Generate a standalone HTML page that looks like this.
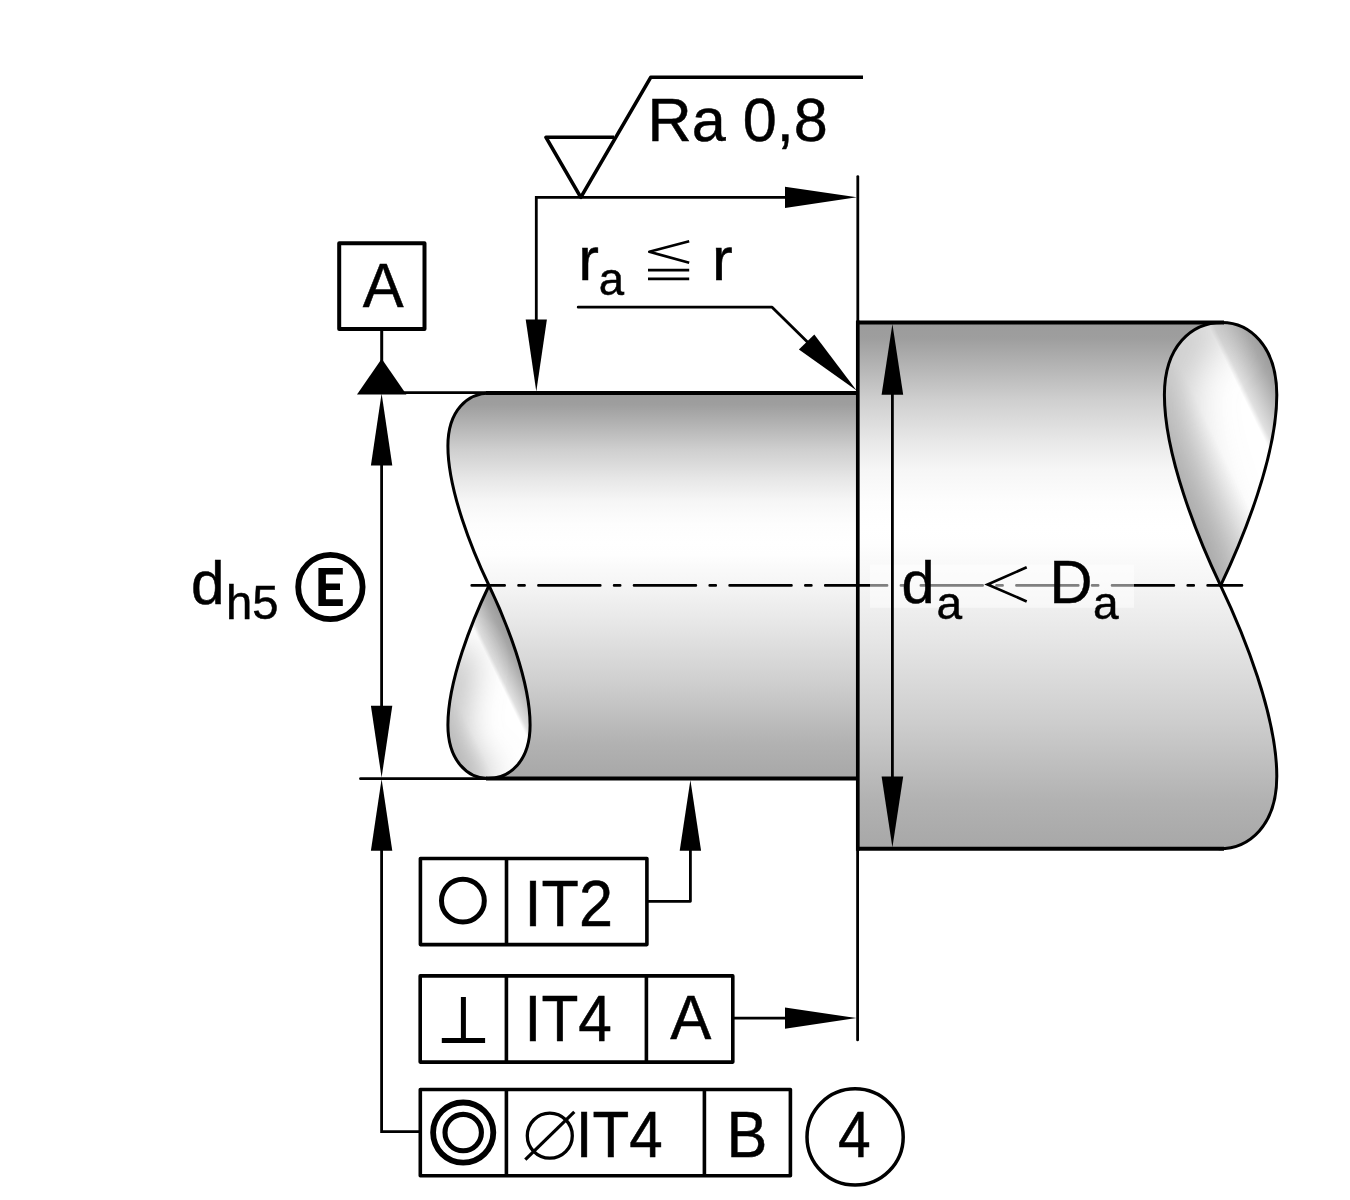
<!DOCTYPE html>
<html>
<head>
<meta charset="utf-8">
<title>Shaft tolerances</title>
<style>
html,body{margin:0;padding:0;background:#fff;}
body{width:1350px;height:1200px;overflow:hidden;font-family:"Liberation Sans",sans-serif;}
svg{display:block;mix-blend-mode:multiply;}
text{font-family:"Liberation Sans",sans-serif;fill:#000;stroke:#000;stroke-width:0.5px;}
</style>
</head>
<body>
<svg width="1350" height="1200" viewBox="0 0 1350 1200">
<defs>
  <linearGradient id="gSmall" gradientUnits="userSpaceOnUse" x1="0" y1="393" x2="0" y2="778.5">
    <stop offset="0" stop-color="#9b9b9b"/>
    <stop offset="0.03" stop-color="#9e9e9e"/>
    <stop offset="0.0714" stop-color="#afafaf"/>
    <stop offset="0.1474" stop-color="#cfcfcf"/>
    <stop offset="0.2234" stop-color="#e7e7e7"/>
    <stop offset="0.2804" stop-color="#f6f6f6"/>
    <stop offset="0.34" stop-color="#fdfdfd"/>
    <stop offset="0.39" stop-color="#ffffff"/>
    <stop offset="0.42" stop-color="#fefefe"/>
    <stop offset="0.45" stop-color="#fafafa"/>
    <stop offset="0.49" stop-color="#f6f6f6"/>
    <stop offset="0.603" stop-color="#e6e6e6"/>
    <stop offset="0.755" stop-color="#cecece"/>
    <stop offset="0.907" stop-color="#b2b2b2"/>
    <stop offset="0.985" stop-color="#a9a9a9"/>
    <stop offset="1" stop-color="#a8a8a8"/>
  </linearGradient>
  <linearGradient id="gBig" gradientUnits="userSpaceOnUse" x1="0" y1="322.4" x2="0" y2="848.8">
    <stop offset="0" stop-color="#9b9b9b"/>
    <stop offset="0.03" stop-color="#9e9e9e"/>
    <stop offset="0.0714" stop-color="#afafaf"/>
    <stop offset="0.1474" stop-color="#cfcfcf"/>
    <stop offset="0.2234" stop-color="#e7e7e7"/>
    <stop offset="0.2804" stop-color="#f6f6f6"/>
    <stop offset="0.34" stop-color="#fdfdfd"/>
    <stop offset="0.39" stop-color="#ffffff"/>
    <stop offset="0.42" stop-color="#fefefe"/>
    <stop offset="0.45" stop-color="#fafafa"/>
    <stop offset="0.49" stop-color="#f6f6f6"/>
    <stop offset="0.603" stop-color="#e6e6e6"/>
    <stop offset="0.755" stop-color="#cecece"/>
    <stop offset="0.907" stop-color="#b2b2b2"/>
    <stop offset="0.985" stop-color="#a9a9a9"/>
    <stop offset="1" stop-color="#a8a8a8"/>
  </linearGradient>
  <linearGradient id="gTearBig" gradientUnits="userSpaceOnUse" x1="1218.8" y1="585.6" x2="1350.7" y2="520.8">
    <stop offset="0" stop-color="#b0b0b0"/>
    <stop offset="0.2" stop-color="#d8d8d8"/>
    <stop offset="0.42" stop-color="#ffffff"/>
    <stop offset="0.716" stop-color="#ffffff"/>
    <stop offset="0.752" stop-color="#e0e0e0"/>
    <stop offset="0.83" stop-color="#c8c8c8"/>
    <stop offset="0.932" stop-color="#a8a8a8"/>
    <stop offset="1" stop-color="#9c9c9c"/>
  </linearGradient>
  <linearGradient id="gTearSmall" gradientUnits="userSpaceOnUse" x1="452.8" y1="761.1" x2="549.3" y2="713.6">
    <stop offset="0" stop-color="#d0d0d0"/>
    <stop offset="0.28" stop-color="#ffffff"/>
    <stop offset="0.716" stop-color="#ffffff"/>
    <stop offset="0.752" stop-color="#e0e0e0"/>
    <stop offset="0.83" stop-color="#c8c8c8"/>
    <stop offset="0.932" stop-color="#a8a8a8"/>
    <stop offset="1" stop-color="#9c9c9c"/>
  </linearGradient>
  <filter id="blurBig" filterUnits="userSpaceOnUse" x="1060" y="220" width="330" height="470"><feGaussianBlur stdDeviation="25"/></filter>
  <filter id="blurSmall" filterUnits="userSpaceOnUse" x="370" y="500" width="250" height="360"><feGaussianBlur stdDeviation="18"/></filter>
  <clipPath id="clipBigTear"><path d="M 1220.6,585.6 C 1197.4,537.1 1164.4,455.1 1164.4,395 C 1164.4,345.8 1191.9,322.5 1222,322.5 C 1249.3,322.5 1276.8,345.8 1276.8,395 C 1276.8,455.1 1243.8,537.1 1220.6,585.6 Z"/></clipPath>
  <clipPath id="clipSmallTear"><path d="M 489,585.5 C 506,621 530.1,681 530.1,725 C 530.1,761 510,778.5 488,778.5 C 468,778.5 447.9,761 447.9,725 C 447.9,681 472,621 489,585.5 Z"/></clipPath>
</defs>

<!-- ============ SHAFT BODIES ============ -->
<!-- small shaft body -->
<path id="smallBody" fill="url(#gSmall)" stroke="none"
  d="M 490,393 L 857,393 L 857,778.5 L 488,778.5
     C 510,778.5 530.1,761 530.1,725
     C 530.1,681 506,621 489,585.5
     C 472,550 447.9,490 447.9,446
     C 447.9,410 468,393 490,393 Z"/>
<!-- small teardrop -->
<path id="smallTear" fill="url(#gTearSmall)" stroke="none"
  d="M 489,585.5
     C 506,621 530.1,681 530.1,725
     C 530.1,761 510,778.5 488,778.5
     C 468,778.5 447.9,761 447.9,725
     C 447.9,681 472,621 489,585.5 Z"/>
<!-- big shaft body -->
<path id="bigBody" fill="url(#gBig)" stroke="none"
  d="M 857,322.5 L 1222,322.5
     C 1191.9,322.5 1164.4,345.8 1164.4,395
     C 1164.4,455.1 1197.4,537.1 1220.6,585.6
     C 1243.8,634.1 1276.8,716.1 1276.8,776.2
     C 1276.8,825.4 1249.3,848.8 1219.2,848.8
     L 857,848.8 Z"/>
<!-- big teardrop -->
<path id="bigTear" fill="url(#gTearBig)" stroke="none"
  d="M 1220.6,585.6
     C 1197.4,537.1 1164.4,455.1 1164.4,395
     C 1164.4,345.8 1191.9,322.5 1222,322.5
     C 1249.3,322.5 1276.8,345.8 1276.8,395
     C 1276.8,455.1 1243.8,537.1 1220.6,585.6 Z"/>

<!-- teardrop inner shading along left edges -->
<g clip-path="url(#clipBigTear)">
  <path d="M 1222,322.5 C 1191.9,322.5 1164.4,345.8 1164.4,395 C 1164.4,455.1 1197.4,537.1 1220.6,585.6" fill="none" stroke="#a0a0a0" stroke-width="30" filter="url(#blurBig)"/>
</g>
<g clip-path="url(#clipSmallTear)">
  <path d="M 462.1,652.1 C 453.9,677 447.9,703 447.9,725 C 447.9,761 468,778.5 488,778.5" fill="none" stroke="#a0a0a0" stroke-width="24" filter="url(#blurSmall)"/>
</g>

<!-- ============ SHAFT OUTLINES ============ -->
<g fill="none" stroke="#000" stroke-linecap="butt" stroke-linejoin="miter">
  <!-- small shaft top/bottom -->
  <path d="M 486,393 L 857,393" stroke-width="3.8"/>
  <path d="M 486,778.5 L 857,778.5" stroke-width="3.8"/>
  <!-- big shaft -->
  <path d="M 1224,322.4 L 857.8,322.4" stroke-width="4"/>
  <path d="M 857.8,848.8 L 1224,848.8" stroke-width="4"/>
  <path d="M 857.8,320.4 L 857.8,850.8" stroke-width="3.7"/>
</g>
<g fill="none" stroke="#000" stroke-width="3" stroke-linecap="round" stroke-linejoin="round">
  <!-- small S curve -->
  <path d="M 490,393 C 468,393 447.9,410 447.9,446 C 447.9,490 472,550 489,585.5
           C 506,621 530.1,681 530.1,725 C 530.1,761 510,778.5 488,778.5"/>
  <!-- small teardrop left side -->
  <path d="M 489,585.5 C 472,621 447.9,681 447.9,725 C 447.9,761 468,778.5 488,778.5"/>
  <!-- big S curve -->
  <path d="M 1222,322.5 C 1191.9,322.5 1164.4,345.8 1164.4,395 C 1164.4,455.1 1197.4,537.1 1220.6,585.6
           C 1243.8,634.1 1276.8,716.1 1276.8,776.2 C 1276.8,825.4 1249.3,848.8 1219.2,848.8"/>
  <!-- big teardrop right side -->
  <path d="M 1222,322.5 C 1249.3,322.5 1276.8,345.8 1276.8,395 C 1276.8,455.1 1243.8,537.1 1220.6,585.6"/>
</g>

<!-- centre line -->
<path id="cl" d="M 471.7,585.4 L 1242,585.4" fill="none" stroke="#000" stroke-width="2.6" stroke-linecap="round"
  stroke-dasharray="61.9 13.8 6.1 13.8" stroke-dashoffset="28.9"/>
<!-- translucent label backing box (veils the centre line) -->
<rect x="870" y="564.5" width="264" height="43.3" fill="#ffffff" fill-opacity="0.5"/>

<!-- ============ THIN LINES ============ -->
<g fill="none" stroke="#000" stroke-width="2.8" stroke-linecap="butt" stroke-linejoin="miter">
  <!-- long vertical extension line -->
  <path d="M 857.8,176.6 L 857.8,322" stroke-linecap="round"/>
  <path d="M 857.6,848 L 857.6,1039.9" stroke-linecap="round"/>
  <!-- top dimension: horizontal + vertical -->
  <path d="M 790,197.3 L 536.3,197.3 L 536.3,325"/>
  <!-- datum A stem -->
  <path d="M 381.7,330 L 381.7,362" stroke-width="3"/>
  <!-- extension lines left -->
  <path d="M 360.5,392.6 L 490,392.6" stroke-linecap="round"/>
  <path d="M 360.5,778.7 L 490,778.7" stroke-linecap="round"/>
  <!-- d dimension line -->
  <path d="M 381.6,460 L 381.6,710"/>
  <path d="M 381.6,846 L 381.6,1131.6 L 419,1131.6"/>
  <!-- r_a leader -->
  <path d="M 578.2,307.2 L 772.1,307.2 L 810,344.5" stroke-linecap="round" stroke-linejoin="round"/>
  <!-- big diameter dim -->
  <path d="M 892.4,390 L 892.4,781"/>
  <!-- IT2 leader -->
  <path d="M 648,901.3 L 690.4,901.3 L 690.4,848" stroke-linejoin="round"/>
  <!-- IT4 A leader -->
  <path d="M 734,1018.1 L 790,1018.1"/>
</g>

<!-- ============ ARROWHEADS ============ -->
<g fill="#000" style="stroke:none">
  <!-- top dim right arrow -->
  <path d="M 856.8,197.3 L 785,186.7 L 785,207.9 Z"/>
  <!-- top dim down arrow -->
  <path d="M 536.3,391.4 L 525.7,319.6 L 546.9,319.6 Z"/>
  <!-- datum triangle -->
  <path d="M 381.7,358.8 L 357,394.6 L 406.4,394.6 Z"/>
  <!-- d dim arrows -->
  <path d="M 381.6,393.6 L 370.9,465.5 L 392.3,465.5 Z"/>
  <path d="M 381.6,777.6 L 370.9,705.7 L 392.3,705.7 Z"/>
  <path d="M 381.6,779 L 370.9,850.8 L 392.3,850.8 Z"/>
  <!-- r_a leader arrow -->
  <path d="M 856.6,390.4 L 798.9,349.6 L 814.3,334.6 Z"/>
  <!-- big dim arrows -->
  <path d="M 892.4,324 L 881.6,394.8 L 903.2,394.8 Z"/>
  <path d="M 892.4,847.4 L 881.6,776.4 L 903.2,776.4 Z"/>
  <!-- IT2 leader arrow -->
  <path d="M 690.4,780 L 679.7,850.7 L 701.1,850.7 Z"/>
  <!-- IT4 A arrow -->
  <path d="M 856.6,1018.1 L 785,1007.4 L 785,1028.8 Z"/>
</g>

<!-- ============ SURFACE FINISH SYMBOL ============ -->
<g fill="none" stroke="#000" stroke-width="3.6" stroke-linejoin="round" stroke-linecap="butt">
  <path d="M 863,77.3 L 650.7,77.3 L 580.8,197.3 L 546,137.3 L 614,137.3"/>
</g>
<text transform="translate(647.5,141.4) scale(0.995,1)" font-size="61.5">Ra 0,8</text>

<!-- ============ DATUM A BOX ============ -->
<rect x="339.2" y="243.3" width="85.3" height="85.8" fill="#fff" stroke="#000" stroke-width="4" stroke-linejoin="round"/>
<text transform="translate(383.2,306.9) scale(0.971,1)" font-size="63.1" text-anchor="middle">A</text>

<!-- ============ r_a <= r ============ -->
<text x="578.3" y="280.4" font-size="62">r</text>
<text x="598.8" y="295.4" font-size="45.5">a</text>
<g fill="none" stroke="#000" stroke-width="2.7" stroke-linecap="butt" stroke-linejoin="miter">
  <path d="M 689.2,241.3 L 649.3,251.8 L 689.2,262.7" stroke-linejoin="round"/>
  <path d="M 648,270.2 L 689.2,270.2"/>
  <path d="M 648,278.8 L 689.2,278.8"/>
</g>
<text x="711.9" y="280.4" font-size="62">r</text>

<!-- ============ d_h5 (E) ============ -->
<text x="191" y="603.5" font-size="60.3">d</text>
<text x="226" y="619.2" font-size="47.2">h5</text>
<circle cx="330.4" cy="587" r="32.2" fill="none" stroke="#000" stroke-width="5.8"/>
<path fill="#000" d="M 318.4,568 H 342.8 V 574.6 H 325.9 V 583.4 H 340 V 589.9 H 325.9 V 599.3 H 342.8 V 605.9 H 318.4 Z"/>

<!-- ============ d_a < D_a ============ -->
<text x="901.5" y="602.7" font-size="59.5">d</text>
<text x="936.5" y="619" font-size="46">a</text>
<path d="M 1026.7,567.3 L 987.6,584.4 L 1026.7,601.4" fill="none" stroke="#000" stroke-width="2.7"/>
<text transform="translate(1049.4,602.7) scale(0.968,1)" font-size="61.5">D</text>
<text x="1093" y="619" font-size="46">a</text>

<!-- ============ FCF 1 ============ -->
<g fill="none" stroke="#000" stroke-width="3.6" stroke-linejoin="round">
  <rect x="420.4" y="858.5" width="226.5" height="86.1" fill="#fff"/>
  <path d="M 506.5,858.5 V 944.6"/>
</g>
<circle cx="462.9" cy="900.7" r="21.4" fill="none" stroke="#000" stroke-width="5"/>
<text transform="translate(524.6,926.4) scale(0.946,1)" font-size="64.6">IT2</text>

<!-- ============ FCF 2 ============ -->
<g fill="none" stroke="#000" stroke-width="3.6" stroke-linejoin="round">
  <rect x="420.2" y="975.9" width="312.6" height="86.2" fill="#fff"/>
  <path d="M 506.4,975.9 V 1062.1 M 646.4,975.9 V 1062.1"/>
</g>
<path d="M 441.8,1040.4 H 485.1 M 463.4,1040.4 V 997.1" fill="none" stroke="#000" stroke-width="5"/>
<text transform="translate(524.6,1040.9) scale(0.935,1)" font-size="64.6">IT4</text>
<text transform="translate(690.9,1039.1) scale(0.97,1)" font-size="63.5" text-anchor="middle">A</text>

<!-- ============ FCF 3 ============ -->
<g fill="none" stroke="#000" stroke-width="3.6" stroke-linejoin="round">
  <rect x="420.3" y="1089.5" width="370.1" height="86.3" fill="#fff"/>
  <path d="M 506.4,1089.5 V 1175.8 M 704.4,1089.5 V 1175.8"/>
</g>
<circle cx="463.2" cy="1132.6" r="30.1" fill="none" stroke="#000" stroke-width="5.8"/>
<circle cx="463.2" cy="1132.6" r="18.2" fill="none" stroke="#000" stroke-width="5.1"/>
<circle cx="549.8" cy="1135.7" r="22.5" fill="none" stroke="#000" stroke-width="3.3"/>
<path d="M 525.3,1159.7 L 574.3,1111.9" fill="none" stroke="#000" stroke-width="3.2"/>
<text transform="translate(575.8,1156.5) scale(0.934,1)" font-size="64.4">IT4</text>
<text transform="translate(726.6,1156.5) scale(0.949,1)" font-size="64.6">B</text>
<circle cx="855.1" cy="1136.9" r="48.1" fill="none" stroke="#000" stroke-width="3.5"/>
<text transform="translate(854.3,1157) scale(0.915,1)" font-size="64.2" text-anchor="middle">4</text>

</svg>
</body>
</html>
